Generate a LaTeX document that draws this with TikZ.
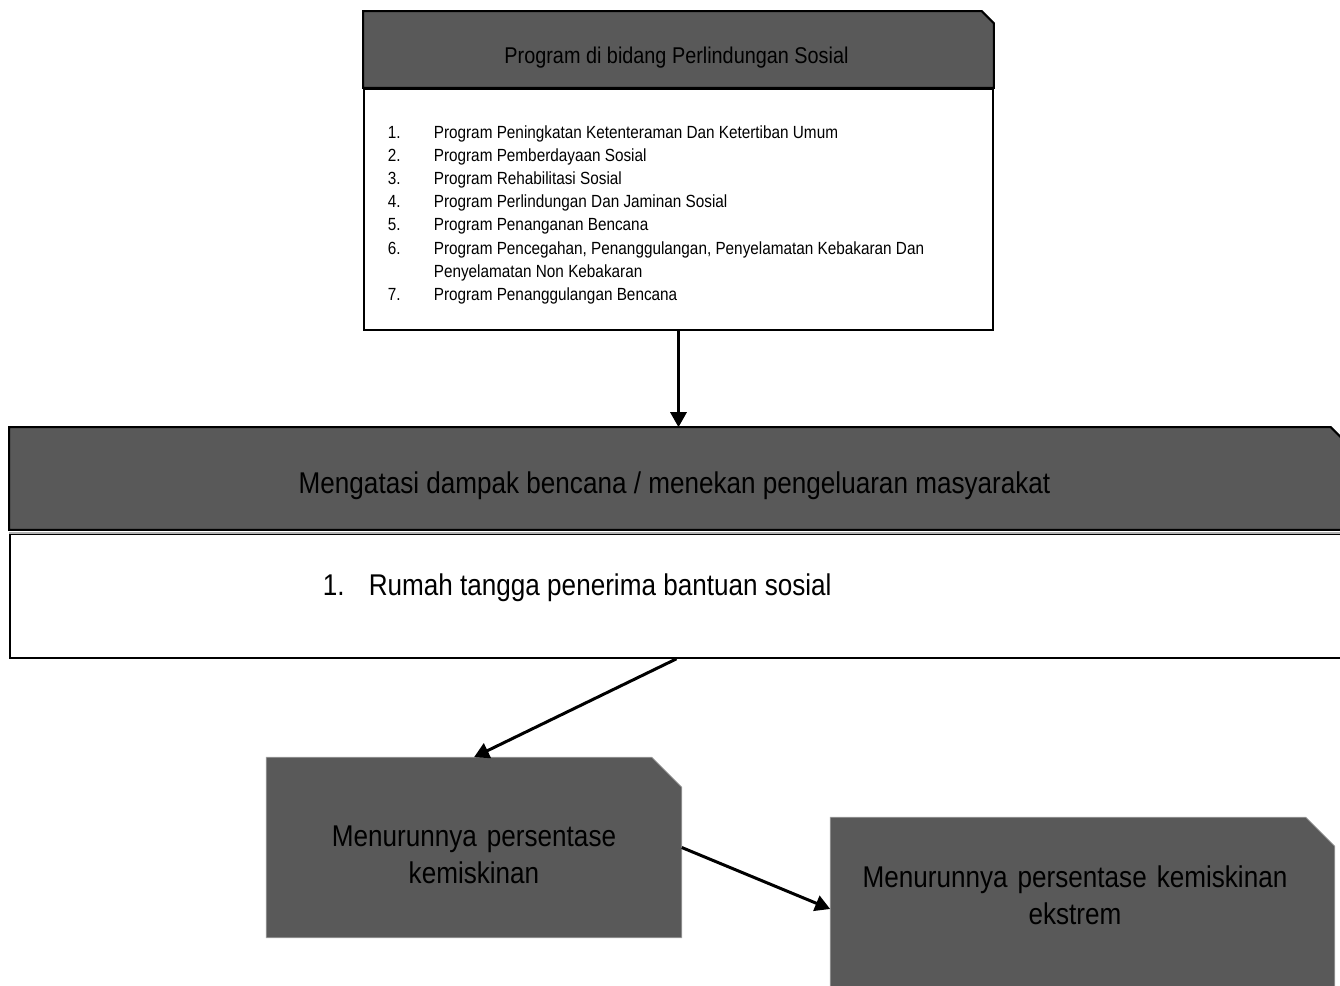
\documentclass[tikz,border=0pt]{standalone}
\usepackage{fontspec}
\setmainfont{Liberation Sans}[FakeStretch=0.87]
\usetikzlibrary{arrows.meta,positioning}
\definecolor{abutua}{HTML}{595959}
% kotak dengan sudut kanan atas terpotong
\newcommand{\kotakpotong}[3]{%
  \path[#3] (#1.south west) -- (#1.north west) -- ([xshift=-#2]#1.north east)
    -- ([yshift=-#2]#1.north east) -- (#1.south east) -- cycle;}

\begin{document}
\begin{tikzpicture}[x=0.5pt, y=-0.5pt, thick]
    % Gaya
    \tikzstyle{bingkai}=[rectangle, inner sep=0pt]
    \tikzstyle{kepala}=[draw=black, line width=1pt, fill=abutua]
    \tikzstyle{isi}=[rectangle, draw=black, line width=1pt, fill=white, inner sep=0pt]
    \tikzstyle{hasil}=[draw=black!35, line width=0.4pt, fill=abutua]
    \tikzstyle{teks}=[inner sep=0pt, font=\fontsize{15}{18.5}\selectfont, align=center]
    \tikzstyle{panah}=[-{Triangle[length=7.5pt,width=8pt]}, line width=1.5pt]

    \useasboundingbox (0,0) rectangle (1340,986);

    % Kotak
    \node[bingkai, minimum width=314.5pt, minimum height=37.5pt] (judul) at (678.5,49.5) {};
    \kotakpotong{judul}{6pt}{kepala}
    \node[isi, minimum width=314.5pt, minimum height=120.5pt, below=0pt of judul] (daftar) {};
    \node[bingkai, minimum width=666.5pt, minimum height=50.5pt] (dampak) at (676.5,478.5) {};
    \kotakpotong{dampak}{6.5pt}{kepala}
    \node[isi, minimum width=666.5pt, minimum height=62pt, below=1.5pt of dampak] (bantuan) {};
    \draw[black!30, line width=1pt] (bantuan.north west) -- (bantuan.north east);
    \node[bingkai, minimum width=207pt, minimum height=89.5pt] (miskin) at (474,847.5) {};
    \kotakpotong{miskin}{15pt}{hasil}
    \node[bingkai, minimum width=251.5pt, minimum height=91pt] (ekstrem) at (1082.5,909) {};
    \kotakpotong{ekstrem}{14.5pt}{hasil}

    % Teks
    \node[anchor=base, inner sep=0pt, font=\fontsize{11.4}{13}\selectfont] (judul-teks) at (676.5,63) {Program di bidang Perlindungan Sosial};
    \node[anchor=base west, inner sep=0pt, font=\fontsize{8.8}{11.6}\selectfont] (daftar-teks) at (387,138) {%
      \begin{tabular}[t]{@{}p{23pt}@{}l@{}}
        1. & Program Peningkatan Ketenteraman Dan Ketertiban Umum\\
        2. & Program Pemberdayaan Sosial\\
        3. & Program Rehabilitasi Sosial\\
        4. & Program Perlindungan Dan Jaminan Sosial\\
        5. & Program Penanganan Bencana\\
        6. & Program Pencegahan, Penanggulangan, Penyelamatan Kebakaran Dan\\
           & Penyelamatan Non Kebakaran\\
        7. & Program Penanggulangan Bencana
      \end{tabular}};
    \node[teks, anchor=base] (dampak-teks) at (674.5,493) {Mengatasi dampak bencana / menekan pengeluaran masyarakat};
    \node[anchor=base west, inner sep=0pt, font=\fontsize{15}{18.5}\selectfont] (bantuan-teks) at (322,595) {\makebox[23pt][l]{1.}Rumah tangga penerima bantuan sosial};
    \node[teks, anchor=base, text width=200pt] (miskin-teks) at (474,846) {Menurunnya persentase\\kemiskinan};
    \node[teks, anchor=base, text width=240pt] (ekstrem-teks) at (1075,887) {Menurunnya persentase kemiskinan\\ekstrem};

    % Panah
    \draw[panah] (daftar.south) -- (daftar.south |- dampak.north);
    \draw[panah] (bantuan.south) -- (miskin.north);
    \draw[panah] (miskin.east) -- (ekstrem.west);
\end{tikzpicture}
\end{document}
